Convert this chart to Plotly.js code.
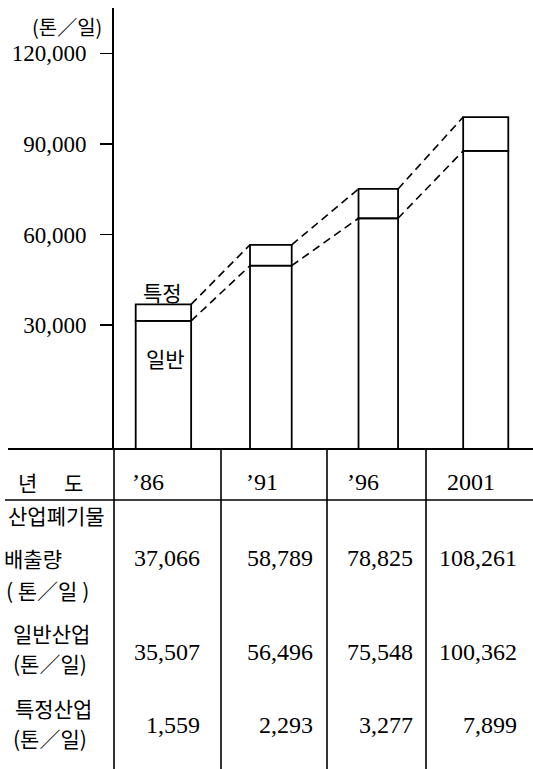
<!DOCTYPE html>
<html>
<head>
<meta charset="utf-8">
<script src="https://cdn.plot.ly/plotly-3.0.1.min.js"></script>
<style>html,body{margin:0;padding:0;background:#fff;}#chart{width:533px;height:769px;}</style>
</head>
<body>
<div id="chart"></div>
<script>
// ---- data ----
const years = [1986, 1991, 1996, 2001];
const yearLabels = ["\u201986", "\u201991", "\u201996", "2001"];
// bar heights as drawn in the picture (tons/day, estimated)
const barGeneral = [31400, 49700, 65400, 87700];
const barSpecific = [5500, 6900, 9700, 11200];
// table values
const totalVals = [37066, 58789, 78825, 108261];
const generalVals = [35507, 56496, 75548, 100362];
const specificVals = [1559, 2293, 3277, 7899];
const yTickVals = [30000, 60000, 90000, 120000];
const yTickText = ["30,000", "60,000", "90,000", "120,000"];
const unitLabel = "(톤／일)";
const barLabels = ["특정", "일반"];
const headerLabel = ["년", "도"];
const rowLabels = ["산업폐기물", "배출량", "( 톤／일 )", "일반산업", "(톤／일)", "특정산업", "(톤／일)"];

// ---- layout helpers ----
const W = 533, H = 769, ML = 114, MR = 0, MT = 8, MB = 320;
const PW = W - ML - MR, PH = H - MT - MB;
const px = x => (x - ML) / PW;
const py = y => (H - MB - y) / PH;
const Y_MIN = -11000, Y_MAX = 135000;
const X_MIN = 1983.7, X_MAX = 2003.2;
const widths = [2.58, 1.94, 1.84, 2.1];

const KR = "Noto Sans CJK KR";
const NUM = "Liberation Serif";
const fmt = v => v.toLocaleString("en-US");

const barLine = {color: "#000", width: 1.8};
const traces = [
  {type: "bar", x: years, y: barGeneral.map(v => v - Y_MIN), base: years.map(() => Y_MIN),
   width: widths, marker: {color: "#fff", line: barLine}, hoverinfo: "skip", showlegend: false},
  {type: "bar", x: years, y: barSpecific, base: barGeneral,
   width: widths, marker: {color: "#fff", line: barLine}, hoverinfo: "skip", showlegend: false}
];

function dashTrace(vals) {
  const xs = [], ys = [];
  for (let i = 0; i < years.length - 1; i++) {
    xs.push(years[i] + widths[i] / 2, years[i + 1] - widths[i + 1] / 2, null);
    ys.push(vals[i], vals[i + 1], null);
  }
  return {type: "scatter", mode: "lines", x: xs, y: ys, connectgaps: false,
    line: {color: "#000", width: 1.6, dash: "8px,5px"}, hoverinfo: "skip", showlegend: false};
}
const totals = barGeneral.map((g, i) => g + barSpecific[i]);
traces.push(dashTrace(totals), dashTrace(barGeneral));

const ann = [];
function A(text, x, y, anchor, font, size) {
  ann.push({text: text, x: px(x), y: py(y), xref: "paper", yref: "paper", xanchor: anchor,
    yanchor: "middle", showarrow: false, borderpad: 0, font: {family: font, size: size, color: "#000"}});
}
A(unitLabel, 67, 26, "center", KR, 20);
A(barLabels[0], 162, 292, "center", KR, 21);
A(barLabels[1], 165, 358, "center", KR, 21);
A(headerLabel[0], 27, 482, "center", KR, 21);
A(headerLabel[1], 73, 482, "center", KR, 21);
const yearX = [131, 245, 346, 446];
yearLabels.forEach((t, i) => A(t, yearX[i], 482, "left", NUM, 24));
const rowLX = [7, 3, 5, 12, 12, 14, 12];
const rowLY = [515, 558, 590, 633, 663, 708, 738];
rowLabels.forEach((t, i) => A(t, rowLX[i], rowLY[i], "left", KR, 21));
const valRight = [201, 314, 414, 518];
totalVals.forEach((v, i) => A(fmt(v), valRight[i], 558, "right", NUM, 24));
generalVals.forEach((v, i) => A(fmt(v), valRight[i], 652, "right", NUM, 24));
specificVals.forEach((v, i) => A(fmt(v), valRight[i], 725, "right", NUM, 24));

const shapes = [];
function Ln(x0, y0, x1, y1, w) {
  shapes.push({type: "line", xref: "paper", yref: "paper", x0: px(x0), y0: py(y0), x1: px(x1), y1: py(y1),
    line: {color: "#000", width: w || 1.6}});
}
Ln(8, 449, 533, 449, 2);
Ln(5, 500, 533, 500, 1.6);
[114, 221, 327, 426].forEach(x => Ln(x, 449, x, 769, 1.6));

const layout = {
  width: W, height: H,
  margin: {l: ML, r: MR, t: MT, b: MB, pad: 0},
  paper_bgcolor: "#fff", plot_bgcolor: "#fff",
  barmode: "overlay",
  xaxis: {range: [X_MIN, X_MAX], visible: false, fixedrange: true},
  yaxis: {range: [Y_MIN, Y_MAX], showgrid: false, zeroline: false, showline: true,
    linecolor: "#000", linewidth: 1.8, ticks: "outside", ticklen: 12, tickwidth: 1.6, tickcolor: "#000",
    tickvals: yTickVals, ticktext: yTickText, ticklabelstandoff: 9,
    tickfont: {family: NUM, size: 23, color: "#000"}, fixedrange: true},
  annotations: ann,
  shapes: shapes
};
Plotly.newPlot("chart", traces, layout, {displayModeBar: false, staticPlot: true});
</script>
</body>
</html>
